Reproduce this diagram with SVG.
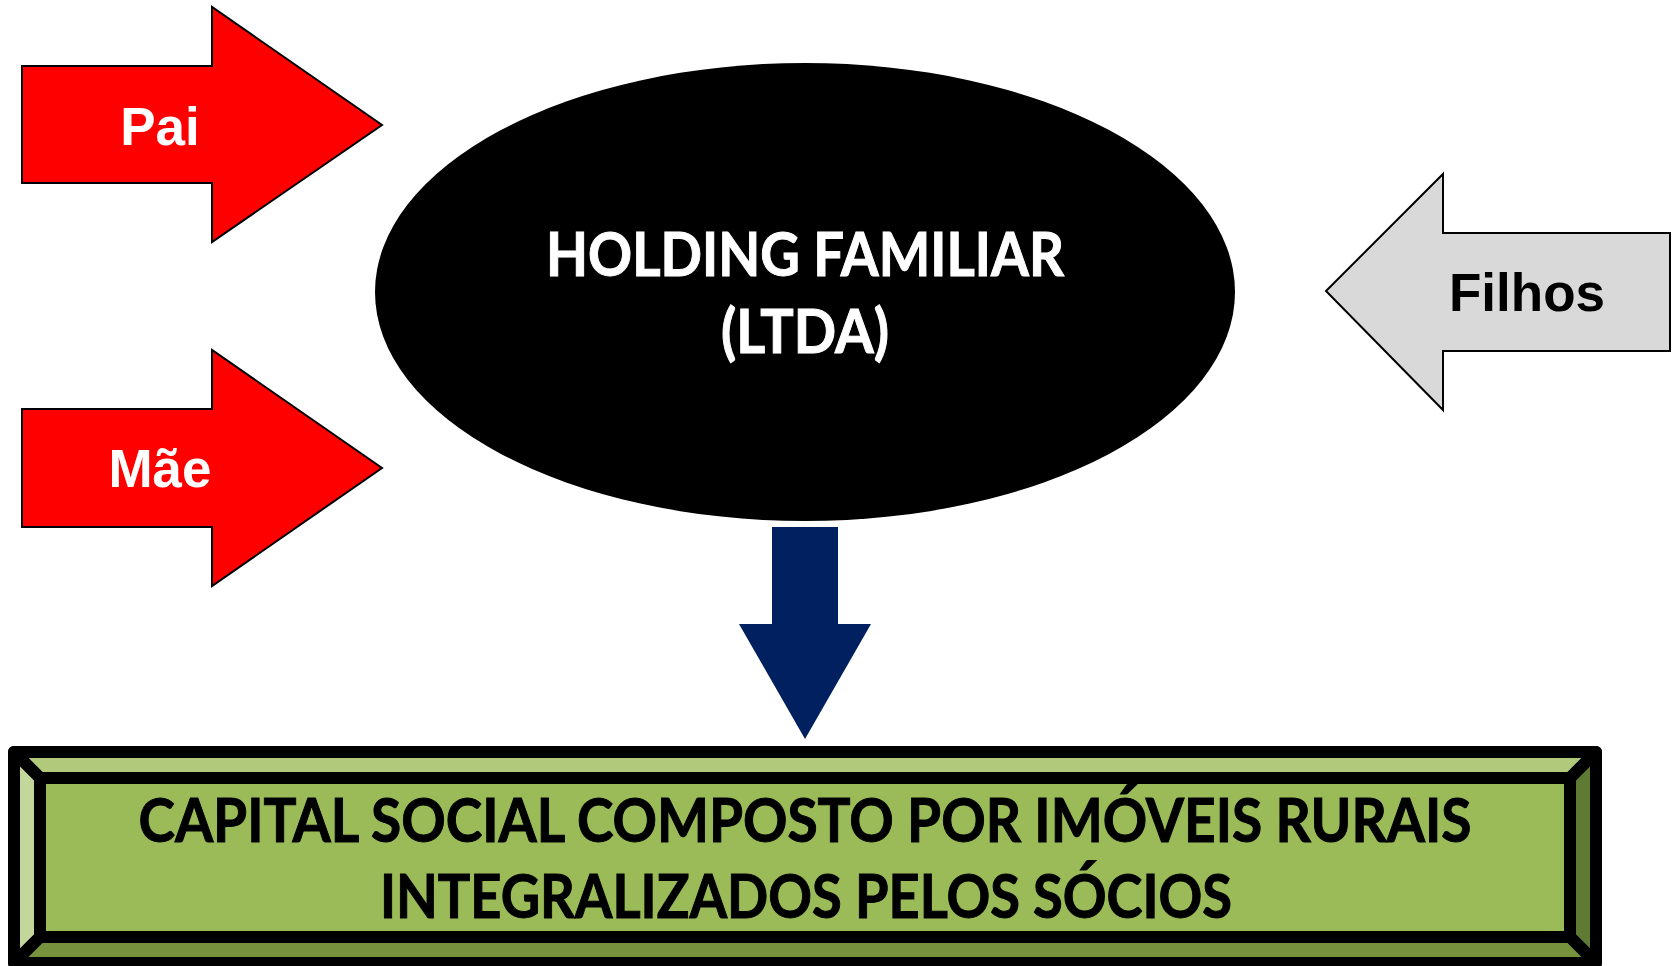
<svg xmlns="http://www.w3.org/2000/svg" width="1673" height="966" viewBox="0 0 1673 966">
<style>
.red{fill:#ff0000;stroke:#000;stroke-width:2;stroke-linejoin:miter}
.gray{fill:#d9d9d9;stroke:#000;stroke-width:2}
.lbl{font-family:"Liberation Sans",Arial,sans-serif;font-weight:bold;font-size:53px;text-anchor:middle}
.big{font-family:Lato,"Open Sans",sans-serif;font-weight:bold;font-size:61px;text-anchor:middle;stroke-width:1}
.bev{stroke:#000;stroke-width:12;stroke-linejoin:round}
</style>
<rect width="1673" height="966" fill="#fff"/>
<g id="pai">
<polygon class="red" points="22,66 212,66 212,7 382,125 212,242 212,183 22,183"/>
<text class="lbl" x="160" y="145" fill="#fff">Pai</text>
</g>
<g id="mae">
<polygon class="red" points="22,409 212,409 212,350 382,468 212,586 212,527 22,527"/>
<text class="lbl" x="160" y="487" fill="#fff">Mãe</text>
</g>
<g id="filhos">
<polygon class="gray" points="1670,233 1443,233 1443,174 1326,291 1443,410 1443,351 1670,351"/>
<text class="lbl" x="1527" y="311" fill="#000">Filhos</text>
</g>
<g id="holding">
<ellipse cx="805" cy="292" rx="430" ry="229" fill="#000"/>
<text class="big" x="805" y="276" fill="#fff" stroke="#fff" textLength="518" lengthAdjust="spacingAndGlyphs">HOLDING FAMILIAR</text>
<text class="big" x="805" y="353" fill="#fff" stroke="#fff" textLength="168" lengthAdjust="spacingAndGlyphs">(LTDA)</text>
</g>
<g id="connectors">
<polygon points="772,527 838,527 838,624 871,624 805,739 739,624 772,624" fill="#002060"/>
</g>
<g id="capital">
<rect x="14" y="752" width="1582" height="212" rx="4" fill="#9bbb59" class="bev"/>
<polygon class="bev" points="14,752 1596,752 1570,778 40,778" fill="#b0c97a"/>
<polygon class="bev" points="14,752 40,778 40,937 14,963" fill="#c3d69b"/>
<polygon class="bev" points="1596,752 1596,963 1570,937 1570,778" fill="#5f7a33"/>
<polygon class="bev" points="14,963 40,937 1570,937 1596,963" fill="#76923c"/>
<rect class="bev" x="40" y="778" width="1530" height="159" fill="#9bbb59" stroke-linejoin="miter"/>
<text class="big" x="805" y="842" fill="#000" stroke="#000" textLength="1333" lengthAdjust="spacingAndGlyphs">CAPITAL SOCIAL COMPOSTO POR IMÓVEIS RURAIS</text>
<text class="big" x="806" y="918" fill="#000" stroke="#000" textLength="852" lengthAdjust="spacingAndGlyphs">INTEGRALIZADOS PELOS SÓCIOS</text>
</g>
</svg>
